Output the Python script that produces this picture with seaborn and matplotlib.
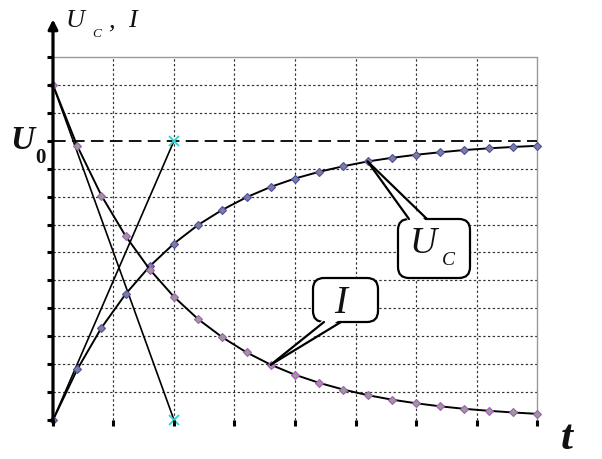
import matplotlib
matplotlib.use("Agg")
import numpy as np
import pandas as pd
import seaborn as sns
import matplotlib.pyplot as plt
from matplotlib.patches import FancyBboxPatch, Polygon
from matplotlib.lines import Line2D
from matplotlib.transforms import IdentityTransform

# time samples (in grid units)
t = [0.0, 0.4, 0.8, 1.2, 1.6, 2.0, 2.4, 2.8, 3.2, 3.6, 4.0,
     4.4, 4.8, 5.2, 5.6, 6.0, 6.4, 6.8, 7.2, 7.6, 8.0]
# capacitor voltage while charging
u_c = [0.00, 1.81, 3.30, 4.51, 5.51, 6.32, 6.99, 7.53, 7.98, 8.35, 8.65,
       8.89, 9.09, 9.26, 9.39, 9.50, 9.59, 9.67, 9.73, 9.78, 9.82]
# charging current
i_c = [12.00, 9.82, 8.04, 6.59, 5.39, 4.41, 3.61, 2.96, 2.42, 1.98, 1.62,
       1.33, 1.09, 0.89, 0.73, 0.60, 0.49, 0.40, 0.33, 0.27, 0.22]
U0 = 10.0     # supply voltage level
I0 = 12.0     # initial current
tau = 2.0     # time constant (tangent intercept)
x_grid = [0, 1, 2, 3, 4, 5, 6, 7, 8]
y_grid = [0, 1, 2, 3, 4, 5, 6, 7, 8, 9, 10, 11, 12, 13]
uc_callout_idx = 13
i_callout_idx = 9

sns.set_style("white")
W, H = 602, 459
fig = plt.figure(figsize=(W / 100, H / 100), dpi=100)
ax = fig.add_axes([0.0026, 0.00285, 0.9799, 0.958])
ax.set_facecolor("white")

serif = "Liberation Serif"
ink = "#111111"
px = IdentityTransform()


def P(x, y):
    return (x, H - y)


# grid
for x in x_grid[1:-1]:
    ax.plot([x, x], [0, y_grid[-1]], color="#333333", lw=0.85, ls=(0, (2, 2)), zorder=1)
for y in y_grid[1:-1]:
    if y == U0:
        continue
    ax.plot([0, x_grid[-1]], [y, y], color="#333333", lw=0.85, ls=(0, (2, 2)), zorder=1)
ax.plot([0, x_grid[-1]], [y_grid[-1]] * 2, color="#9a9a9a", lw=1.0, zorder=1)
ax.plot([x_grid[-1]] * 2, [0, y_grid[-1]], color="#9a9a9a", lw=1.0, zorder=1)
ax.plot([0, x_grid[-1]], [U0, U0], color="black", lw=1.3, dashes=(7, 3.5), zorder=2)

# tangent lines at t = 0
ax.plot([0, tau], [0, U0], color="black", lw=1.2, zorder=3)
ax.plot([0, tau], [I0, 0], color="black", lw=1.2, zorder=3)

# curves
df = pd.DataFrame({"t": t, "uc": u_c, "i": i_c})
sns.lineplot(data=df, x="t", y="uc", ax=ax, color="black", lw=1.4, marker="D",
             markersize=3.8, markerfacecolor="#7d7da0", markeredgecolor="#4f4f9e",
             markeredgewidth=0.8, zorder=4)
sns.lineplot(data=df, x="t", y="i", ax=ax, color="black", lw=1.4, marker="D",
             markersize=3.8, markerfacecolor="#9a9a9a", markeredgecolor="#a35db5",
             markeredgewidth=0.8, zorder=4)
ax.plot([tau, tau], [U0, 0], ls="none", marker="x", ms=7, mew=1.3,
        color="#2fd3d3", zorder=6)

# axes with arrows and ticks
ax.annotate("", xy=(8.93, 0), xytext=(-0.02, 0),
            arrowprops=dict(arrowstyle="-|>", lw=2.3, color="black",
                            mutation_scale=14, shrinkA=0, shrinkB=0), zorder=7)
ax.annotate("", xy=(0, 14.35), xytext=(0, -0.05),
            arrowprops=dict(arrowstyle="-|>", lw=2.3, color="black",
                            mutation_scale=14, shrinkA=0, shrinkB=0), zorder=7)
ax.plot([0] * len(y_grid), y_grid, ls="none", marker=0, ms=4.5, mew=2.2,
        color="black", zorder=7)
ax.plot(x_grid, [0] * len(x_grid), ls="none", marker=3, ms=4, mew=2.2,
        color="black", zorder=7)

ax.set_xlim(-0.85, 8.9)
ax.set_ylim(-1.35, 14.4)
ax.axis("off")

# axis titles
fig.text(*P(66, 27), "U", transform=px, fontfamily=serif, fontstyle="italic",
         fontsize=19, color=ink, va="baseline")
fig.text(*P(92, 37), "C", transform=px, fontfamily=serif, fontstyle="italic",
         fontsize=9.5, color=ink, va="baseline")
fig.text(*P(108, 27), ",", transform=px, fontfamily=serif, fontstyle="italic",
         fontsize=19, color=ink, va="baseline")
fig.text(*P(128, 27), "I", transform=px, fontfamily=serif, fontstyle="italic",
         fontsize=19, color=ink, va="baseline")

fig.text(*P(10, 149), "U", transform=px, fontfamily=serif, fontstyle="italic",
         fontweight="bold", fontsize=24, color=ink, va="baseline")
fig.text(*P(35, 163), "0", transform=px, fontfamily=serif,
         fontweight="bold", fontsize=15, color=ink, va="baseline")

fig.text(*P(561, 458), "t", transform=px, fontfamily=serif, fontstyle="italic",
         fontweight="bold", fontsize=31, color=ink, va="bottom")


# callouts
def callout(box, base, tip_data):
    x0, y0, x1, y1 = box
    fig.add_artist(FancyBboxPatch(P(x0, y1), x1 - x0, y1 - y0,
                                  boxstyle="round,pad=0,rounding_size=11",
                                  transform=px, fc="white", ec="black", lw=1.6,
                                  zorder=8))
    tip = ax.transData.transform(tip_data)
    (bx0, by), (bx1, _) = base
    inner = 3 if by == y0 else -3
    fig.add_artist(Polygon([tip, P(bx0, by + inner), P(bx1, by + inner)],
                           closed=True, transform=px, fc="white", ec="none",
                           zorder=9))
    for bx in (bx0, bx1):
        fig.add_artist(Line2D([tip[0], P(bx, by)[0]], [tip[1], P(bx, by)[1]],
                              transform=px, color="black", lw=1.6, zorder=10))


callout((398, 219, 470, 278), ((409, 219), (427, 219)),
        (t[uc_callout_idx], u_c[uc_callout_idx]))
callout((313, 278, 378, 322), ((324, 322), (341, 322)),
        (t[i_callout_idx], i_c[i_callout_idx]))

fig.text(*P(410, 253), "U", transform=px, fontfamily=serif, fontstyle="italic",
         fontsize=27, color=ink, va="baseline", zorder=11)
fig.text(*P(442, 265), "C", transform=px, fontfamily=serif, fontstyle="italic",
         fontsize=14, color=ink, va="baseline", zorder=11)
fig.text(*P(334, 313), "I", transform=px, fontfamily=serif, fontstyle="italic",
         fontsize=28, color=ink, va="baseline", zorder=11)

fig.savefig("out.png", dpi=100, facecolor="white")
